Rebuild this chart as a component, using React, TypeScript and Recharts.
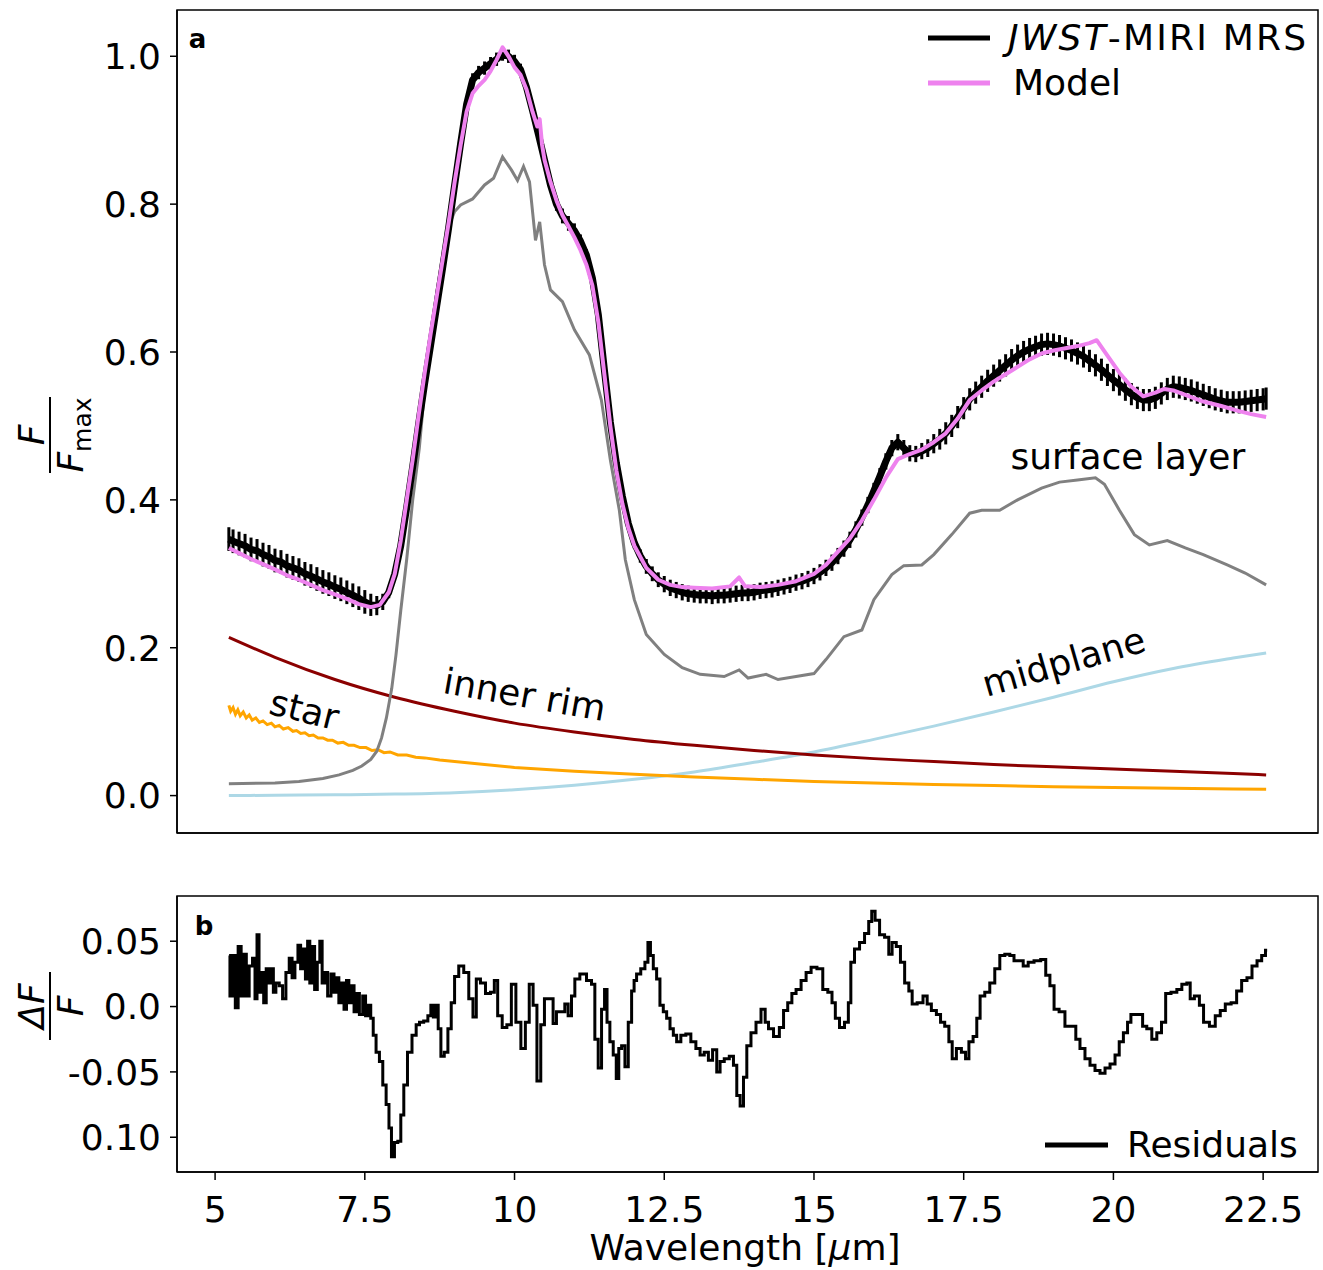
import React from 'react';
import {
  LineChart,
  Line,
  XAxis,
  YAxis,
  ReferenceArea,
  ReferenceDot,
  ErrorBar,
  Legend,
} from 'recharts';

const FONT = '"DejaVu Sans", Verdana, sans-serif';

// ---------- axis settings ----------
const waveTicks = [5, 7.5, 10, 12.5, 15, 17.5, 20, 22.5];
const waveTickLabels = ['5', '7.5', '10', '12.5', '15', '17.5', '20', '22.5'];
const waveDomain: [number, number] = [4.364, 23.416];
const fluxTicks = [0, 0.2, 0.4, 0.6, 0.8, 1.0];
const fluxTickLabels = ['0.0', '0.2', '0.4', '0.6', '0.8', '1.0'];
const fluxDomain: [number, number] = [-0.0506, 1.0626];
const resTicks = [0.05, 0.0, -0.05, -0.1];
const resTickLabels = ['0.05', '0.0', '-0.05', '0.10'];
const resDomain: [number, number] = [-0.1266, 0.0846];

// ---------- JWST-MIRI MRS spectrum [wavelength, flux, error] ----------
const observed: [number, number, number][] = [
  [5.23, 0.347, 0.016], [5.3, 0.344, 0.016], [5.4, 0.341, 0.016], [5.5, 0.338, 0.016],
  [5.6, 0.333, 0.016], [5.7, 0.331, 0.016], [5.8, 0.326, 0.016], [5.9, 0.323, 0.016],
  [6.0, 0.318, 0.016], [6.1, 0.316, 0.016], [6.2, 0.311, 0.016], [6.3, 0.308, 0.016],
  [6.4, 0.305, 0.016], [6.5, 0.3, 0.016], [6.6, 0.297, 0.016], [6.7, 0.293, 0.016],
  [6.8, 0.289, 0.016], [6.9, 0.286, 0.016], [7.0, 0.282, 0.016], [7.1, 0.279, 0.016],
  [7.2, 0.275, 0.016], [7.3, 0.271, 0.016], [7.4, 0.267, 0.016], [7.5, 0.262, 0.016],
  [7.6, 0.258, 0.015], [7.7, 0.257, 0.013], [7.8, 0.262, 0.011],
  [7.9, 0.275, 0.008], [8.0, 0.3, 0.007], [8.1, 0.338, 0.007], [8.2, 0.39, 0.007],
  [8.3, 0.445, 0.007], [8.4, 0.503, 0.007], [8.5, 0.558, 0.007], [8.6, 0.61, 0.007],
  [8.7, 0.662, 0.007], [8.8, 0.714, 0.007], [8.9, 0.768, 0.007], [9.0, 0.826, 0.007],
  [9.1, 0.882, 0.007], [9.2, 0.935, 0.007], [9.3, 0.968, 0.009], [9.4, 0.978, 0.009],
  [9.5, 0.984, 0.009], [9.6, 0.99, 0.009], [9.7, 0.996, 0.009], [9.8, 1.003, 0.009],
  [9.9, 1.0, 0.009], [10.0, 0.993, 0.009], [10.1, 0.982, 0.008], [10.2, 0.958, 0.007],
  [10.3, 0.927, 0.007], [10.4, 0.894, 0.007], [10.5, 0.86, 0.007], [10.6, 0.826, 0.007],
  [10.7, 0.8, 0.009], [10.8, 0.784, 0.01], [10.9, 0.774, 0.01], [11.0, 0.764, 0.01],
  [11.1, 0.75, 0.009], [11.2, 0.731, 0.008], [11.3, 0.7, 0.007], [11.4, 0.65, 0.007],
  [11.5, 0.576, 0.007], [11.6, 0.505, 0.007], [11.7, 0.45, 0.007], [11.8, 0.405, 0.007],
  [11.9, 0.368, 0.007], [12.0, 0.342, 0.008], [12.1, 0.324, 0.009], [12.2, 0.31, 0.01],
  [12.3, 0.3, 0.01], [12.4, 0.292, 0.01], [12.5, 0.286, 0.011], [12.6, 0.281, 0.011],
  [12.7, 0.278, 0.011], [12.8, 0.275, 0.011], [12.9, 0.273, 0.011], [13.0, 0.272, 0.011],
  [13.1, 0.271, 0.011], [13.2, 0.271, 0.011], [13.3, 0.27, 0.011], [13.4, 0.271, 0.011],
  [13.5, 0.271, 0.011], [13.6, 0.272, 0.011], [13.7, 0.273, 0.011], [13.8, 0.274, 0.011],
  [13.9, 0.274, 0.011], [14.0, 0.275, 0.011], [14.1, 0.277, 0.011], [14.2, 0.278, 0.011],
  [14.3, 0.279, 0.011], [14.4, 0.281, 0.011], [14.5, 0.283, 0.011], [14.6, 0.285, 0.011],
  [14.7, 0.288, 0.011], [14.8, 0.29, 0.011], [14.9, 0.293, 0.011], [15.0, 0.297, 0.011],
  [15.1, 0.302, 0.011], [15.2, 0.308, 0.011], [15.3, 0.315, 0.011], [15.4, 0.324, 0.011],
  [15.5, 0.334, 0.011], [15.6, 0.346, 0.011], [15.7, 0.36, 0.011], [15.8, 0.376, 0.011],
  [15.9, 0.393, 0.011],
  [16.0, 0.412, 0.011], [16.1, 0.432, 0.011], [16.2, 0.452, 0.011], [16.3, 0.47, 0.011],
  [16.4, 0.478, 0.011], [16.5, 0.47, 0.011], [16.6, 0.463, 0.011], [16.7, 0.462, 0.011],
  [16.8, 0.466, 0.011], [16.9, 0.47, 0.012], [17.0, 0.476, 0.013], [17.1, 0.482, 0.014],
  [17.2, 0.49, 0.015], [17.3, 0.5, 0.015], [17.4, 0.512, 0.015], [17.5, 0.524, 0.015],
  [17.6, 0.536, 0.015], [17.7, 0.545, 0.015], [17.8, 0.553, 0.015], [17.9, 0.561, 0.015],
  [18.0, 0.568, 0.015], [18.1, 0.575, 0.015], [18.2, 0.582, 0.015], [18.3, 0.589, 0.015],
  [18.4, 0.595, 0.015], [18.5, 0.6, 0.015], [18.6, 0.604, 0.015], [18.7, 0.607, 0.015],
  [18.8, 0.61, 0.015], [18.9, 0.611, 0.015], [19.0, 0.61, 0.015], [19.1, 0.608, 0.015],
  [19.2, 0.605, 0.015], [19.3, 0.602, 0.015], [19.4, 0.598, 0.015], [19.5, 0.594, 0.015],
  [19.6, 0.588, 0.015], [19.7, 0.582, 0.015], [19.8, 0.576, 0.015], [19.9, 0.569, 0.015],
  [20.0, 0.562, 0.015], [20.1, 0.556, 0.015], [20.2, 0.549, 0.015], [20.3, 0.543, 0.015],
  [20.4, 0.538, 0.015], [20.5, 0.535, 0.015], [20.6, 0.535, 0.015], [20.7, 0.538, 0.015],
  [20.8, 0.544, 0.015], [20.9, 0.55, 0.015], [21.0, 0.553, 0.015], [21.1, 0.552, 0.015],
  [21.2, 0.55, 0.015], [21.3, 0.548, 0.015], [21.4, 0.545, 0.015], [21.5, 0.542, 0.015],
  [21.6, 0.539, 0.015], [21.7, 0.536, 0.015], [21.8, 0.534, 0.015], [21.9, 0.532, 0.015],
  [22.0, 0.532, 0.015], [22.1, 0.532, 0.015], [22.2, 0.533, 0.015], [22.3, 0.534, 0.015],
  [22.4, 0.535, 0.015], [22.5, 0.536, 0.015], [22.55, 0.537, 0.015],
];

// ---------- model [wavelength, flux] ----------
const model: [number, number][] = [
  [5.23, 0.335], [5.4, 0.328], [5.6, 0.32], [5.8, 0.313], [6.0, 0.306], [6.2, 0.298],
  [6.4, 0.292], [6.6, 0.285], [6.8, 0.278], [7.0, 0.272], [7.2, 0.266], [7.4, 0.259],
  [7.6, 0.255], [7.75, 0.258], [7.9, 0.275], [8.0, 0.3], [8.1, 0.345], [8.2, 0.4],
  [8.3, 0.455], [8.4, 0.515], [8.5, 0.572], [8.6, 0.625], [8.7, 0.675], [8.8, 0.725],
  [8.9, 0.775], [9.0, 0.83], [9.1, 0.88], [9.2, 0.925], [9.3, 0.95], [9.4, 0.96],
  [9.5, 0.968], [9.6, 0.98], [9.7, 0.995], [9.8, 1.012], [9.9, 1.0], [10.0, 0.985],
  [10.1, 0.975], [10.2, 0.955], [10.3, 0.925], [10.38, 0.905], [10.42, 0.915], [10.46, 0.88],
  [10.5, 0.86], [10.6, 0.83], [10.7, 0.805], [10.8, 0.785], [10.9, 0.77], [11.0, 0.755],
  [11.1, 0.738], [11.2, 0.718], [11.3, 0.69], [11.4, 0.64], [11.5, 0.57], [11.6, 0.5],
  [11.7, 0.44], [11.8, 0.395], [11.9, 0.362], [12.0, 0.338], [12.2, 0.308], [12.4, 0.292],
  [12.6, 0.285], [12.8, 0.282], [13.0, 0.281], [13.3, 0.28], [13.6, 0.283], [13.75, 0.295],
  [13.85, 0.283], [14.1, 0.282], [14.4, 0.285], [14.7, 0.29], [15.0, 0.3], [15.2, 0.312],
  [15.4, 0.33], [15.6, 0.348], [15.8, 0.372], [16.0, 0.4], [16.2, 0.43], [16.4, 0.455],
  [16.6, 0.462], [16.8, 0.468], [17.0, 0.478], [17.2, 0.49], [17.4, 0.51], [17.6, 0.535],
  [17.8, 0.548], [18.0, 0.56], [18.2, 0.57], [18.4, 0.58], [18.6, 0.59], [18.8, 0.598],
  [19.0, 0.602], [19.2, 0.605], [19.4, 0.608], [19.6, 0.612], [19.72, 0.616], [19.9, 0.595],
  [20.1, 0.572], [20.3, 0.553], [20.5, 0.54], [20.7, 0.545], [20.85, 0.55], [21.0, 0.548],
  [21.2, 0.542], [21.5, 0.533], [21.8, 0.527], [22.1, 0.52], [22.3, 0.516], [22.55, 0.512],
];

// ---------- surface layer [wavelength, flux] ----------
const surfaceLayer: [number, number][] = [
  [5.23, 0.016], [6.0, 0.017], [6.4, 0.019], [6.8, 0.023], [7.07, 0.028], [7.3, 0.034],
  [7.45, 0.04], [7.6, 0.049], [7.7, 0.06], [7.78, 0.078], [7.86, 0.105], [7.95, 0.145],
  [8.02, 0.19], [8.1, 0.25], [8.2, 0.32], [8.3, 0.4], [8.41, 0.47], [8.5, 0.55], [8.6, 0.62],
  [8.7, 0.68], [8.8, 0.73], [8.9, 0.77], [9.0, 0.79], [9.1, 0.799], [9.3, 0.807], [9.5, 0.826],
  [9.65, 0.835], [9.8, 0.864], [9.95, 0.846], [10.05, 0.832], [10.15, 0.851], [10.25, 0.83],
  [10.35, 0.751], [10.42, 0.776], [10.5, 0.718], [10.6, 0.684], [10.8, 0.668], [11.0, 0.63],
  [11.25, 0.596], [11.45, 0.535], [11.6, 0.454], [11.75, 0.386], [11.85, 0.319], [12.0, 0.265],
  [12.2, 0.218], [12.5, 0.191], [12.8, 0.173], [13.1, 0.164], [13.5, 0.161], [13.75, 0.17],
  [13.9, 0.159], [14.2, 0.164], [14.4, 0.157], [14.7, 0.161], [15.0, 0.165], [15.2, 0.184],
  [15.5, 0.215], [15.8, 0.224], [16.0, 0.265], [16.3, 0.299], [16.5, 0.311], [16.8, 0.312],
  [17.0, 0.326], [17.3, 0.353], [17.6, 0.382], [17.8, 0.386], [18.1, 0.386], [18.4, 0.4],
  [18.8, 0.416], [19.1, 0.424], [19.4, 0.427], [19.7, 0.43], [19.85, 0.421], [20.1, 0.386],
  [20.35, 0.353], [20.6, 0.339], [20.9, 0.345], [21.2, 0.335], [21.5, 0.326], [21.9, 0.312],
  [22.2, 0.301], [22.55, 0.285],
];

// ---------- inner rim [wavelength, flux] ----------
const innerRim: [number, number][] = [
  [5.23, 0.214], [6.0, 0.187], [7.0, 0.157], [8.0, 0.133], [9.0, 0.114], [10.0, 0.098],
  [11.0, 0.086], [12.0, 0.076], [13.0, 0.068], [14.0, 0.061], [15.0, 0.055], [16.0, 0.05],
  [17.0, 0.046], [18.0, 0.042], [19.0, 0.039], [20.0, 0.036], [21.0, 0.033], [22.0, 0.03],
  [22.55, 0.028],
];

// ---------- star [wavelength, flux] ----------
const star: [number, number][] = [
  [5.23, 0.122], [5.26, 0.114], [5.3, 0.119], [5.34, 0.11], [5.38, 0.116], [5.42, 0.108],
  [5.47, 0.113], [5.52, 0.105], [5.57, 0.109], [5.62, 0.102], [5.68, 0.105], [5.74, 0.099],
  [5.8, 0.101], [5.87, 0.096], [5.94, 0.098], [6.0, 0.093], [6.07, 0.095], [6.14, 0.09],
  [6.22, 0.092], [6.3, 0.087], [6.36, 0.088], [6.43, 0.084], [6.5, 0.085], [6.57, 0.081],
  [6.64, 0.082], [6.72, 0.078], [6.8, 0.078], [6.88, 0.075], [6.96, 0.075], [7.05, 0.071],
  [7.14, 0.072], [7.23, 0.068], [7.32, 0.068], [7.42, 0.065], [7.52, 0.065], [7.62, 0.061],
  [7.72, 0.062], [7.82, 0.058], [7.92, 0.059], [8.05, 0.055], [8.2, 0.055], [8.35, 0.052],
  [8.5, 0.051], [8.75, 0.048], [9.0, 0.046], [9.25, 0.044], [9.5, 0.042], [10.0, 0.038],
  [11.0, 0.033], [12.0, 0.029], [13.0, 0.025], [14.0, 0.022], [15.0, 0.019], [16.0, 0.017],
  [17.0, 0.015], [18.0, 0.0135], [19.0, 0.012], [20.0, 0.011], [21.0, 0.01], [22.0, 0.009],
  [22.55, 0.0085],
];

// ---------- midplane [wavelength, flux] ----------
const midplane: [number, number][] = [
  [5.23, 0.0], [6.0, 0.0005], [7.0, 0.001], [8.0, 0.002], [9.0, 0.004], [10.0, 0.008],
  [11.0, 0.014], [12.0, 0.022], [13.0, 0.032], [14.0, 0.045], [15.0, 0.059], [16.0, 0.076],
  [17.0, 0.094], [18.0, 0.113], [19.0, 0.133], [20.0, 0.154], [21.0, 0.172], [22.0, 0.186],
  [22.55, 0.193],
];

// ---------- residuals [wavelength, dF/F] ----------
const residuals: [number, number][] = [
  [5.234, 0.039], [5.262, 0.008], [5.318, 0.039], [5.357, -0.001], [5.413, 0.046], [5.457, 0.008],
  [5.502, 0.04], [5.541, 0.008], [5.597, 0.031], [5.653, 0.037], [5.68, 0.006], [5.72, 0.055],
  [5.747, 0.011], [5.792, 0.026], [5.831, 0.003], [5.876, 0.029], [5.931, 0.018], [5.959, 0.029],
  [5.987, 0.011], [6.043, 0.018], [6.099, 0.016], [6.155, 0.006], [6.21, 0.026], [6.266, 0.037],
  [6.305, 0.022], [6.361, 0.034], [6.406, 0.047], [6.45, 0.029], [6.489, 0.044], [6.528, 0.021],
  [6.562, 0.05], [6.601, 0.018], [6.64, 0.046], [6.684, 0.013], [6.729, 0.034], [6.768, 0.05],
  [6.807, 0.018], [6.852, 0.026], [6.907, 0.008], [6.963, 0.025], [7.008, 0.011], [7.047, 0.022],
  [7.086, 0.003], [7.131, 0.018], [7.175, -0.002], [7.214, 0.02], [7.253, 0.003], [7.298, 0.016],
  [7.343, -0.004], [7.382, 0.01], [7.437, -0.006], [7.493, 0.008], [7.532, -0.007], [7.577, 0.001],
  [7.621, -0.009], [7.66, -0.022], [7.716, -0.035], [7.772, -0.042], [7.828, -0.06], [7.884, -0.075],
  [7.923, -0.093], [7.967, -0.115], [8.023, -0.104], [8.079, -0.103], [8.123, -0.083], [8.179, -0.06],
  [8.246, -0.035], [8.33, -0.022], [8.385, -0.014], [8.441, -0.012], [8.525, -0.011], [8.581, -0.007],
  [8.625, 0.001], [8.664, -0.008], [8.703, 0.001], [8.748, -0.017], [8.793, -0.038], [8.86, -0.035],
  [8.915, -0.017], [8.971, 0.003], [9.027, 0.023], [9.11, 0.031], [9.194, 0.026], [9.278, 0.006],
  [9.334, -0.008], [9.389, 0.021], [9.473, 0.018], [9.557, 0.01], [9.64, 0.011], [9.685, 0.02],
  [9.752, -0.007], [9.836, -0.016], [9.908, -0.014], [9.986, 0.017], [10.059, -0.012], [10.153, -0.032],
  [10.209, -0.012], [10.282, 0.017], [10.338, 0.001], [10.41, -0.057], [10.466, -0.014], [10.533, 0.006],
  [10.616, 0.006], [10.672, -0.013], [10.728, -0.004], [10.812, -0.004], [10.867, 0.002], [10.923, -0.007],
  [10.979, 0.008], [11.035, 0.021], [11.146, 0.025], [11.258, 0.02], [11.313, 0.017], [11.369, -0.025],
  [11.425, -0.047], [11.481, -0.002], [11.525, 0.013], [11.564, -0.012], [11.62, -0.027], [11.676, -0.037],
  [11.721, -0.055], [11.76, -0.032], [11.816, -0.03], [11.871, -0.046], [11.927, -0.012], [11.983, 0.012],
  [12.01, 0.02], [12.066, 0.025], [12.149, 0.029], [12.205, 0.034], [12.25, 0.049], [12.289, 0.039],
  [12.345, 0.029], [12.4, 0.021], [12.456, 0.001], [12.512, -0.004], [12.568, -0.009], [12.624, -0.017],
  [12.679, -0.022], [12.735, -0.027], [12.819, -0.022], [12.902, -0.021], [12.986, -0.027], [13.07, -0.032],
  [13.126, -0.037], [13.209, -0.035], [13.265, -0.041], [13.349, -0.033], [13.404, -0.05], [13.46, -0.042],
  [13.544, -0.04], [13.628, -0.038], [13.683, -0.045], [13.739, -0.068], [13.795, -0.076], [13.851, -0.054],
  [13.906, -0.03], [13.99, -0.02], [14.074, -0.012], [14.157, -0.002], [14.213, -0.012], [14.269, -0.017],
  [14.38, -0.023], [14.464, -0.016], [14.52, -0.003], [14.603, 0.003], [14.659, 0.01], [14.743, 0.013],
  [14.827, 0.02], [14.91, 0.026], [14.994, 0.03], [15.105, 0.029], [15.189, 0.013], [15.273, 0.011],
  [15.329, 0.003], [15.384, -0.009], [15.468, -0.016], [15.552, -0.012], [15.596, 0.003], [15.635, 0.034],
  [15.719, 0.044], [15.803, 0.049], [15.886, 0.056], [15.942, 0.065], [15.987, 0.073], [16.054, 0.066],
  [16.137, 0.055], [16.221, 0.053], [16.277, 0.04], [16.332, 0.049], [16.416, 0.046], [16.472, 0.034],
  [16.556, 0.018], [16.612, 0.012], [16.667, 0.002], [16.779, 0.003], [16.862, 0.008], [16.918, 0.002],
  [17.002, -0.003], [17.086, -0.006], [17.141, -0.012], [17.225, -0.015], [17.28, -0.027], [17.336, -0.04],
  [17.42, -0.032], [17.503, -0.035], [17.559, -0.04], [17.615, -0.027], [17.699, -0.023], [17.738, -0.009],
  [17.81, 0.008], [17.894, 0.011], [17.977, 0.018], [18.061, 0.029], [18.145, 0.039], [18.228, 0.04],
  [18.312, 0.039], [18.368, 0.035], [18.452, 0.035], [18.535, 0.031], [18.619, 0.034], [18.73, 0.035],
  [18.842, 0.036], [18.898, 0.024], [18.981, 0.016], [19.037, -0.002], [19.149, -0.004], [19.232, -0.015],
  [19.344, -0.015], [19.4, -0.025], [19.483, -0.032], [19.567, -0.04], [19.651, -0.045], [19.734, -0.049],
  [19.818, -0.051], [19.902, -0.047], [19.985, -0.044], [20.069, -0.037], [20.125, -0.027], [20.208, -0.02],
  [20.264, -0.012], [20.32, -0.006], [20.46, -0.006], [20.515, -0.015], [20.599, -0.017], [20.683, -0.025],
  [20.766, -0.02], [20.839, -0.012], [20.906, 0.01], [21.017, 0.011], [21.101, 0.013], [21.184, 0.017],
  [21.268, 0.018], [21.296, 0.006], [21.408, 0.008], [21.463, 0.001], [21.547, -0.012], [21.659, -0.015],
  [21.742, -0.007], [21.826, -0.003], [21.91, 0.002], [22.021, 0.003], [22.094, 0.012], [22.188, 0.02],
  [22.272, 0.022], [22.356, 0.031], [22.44, 0.035], [22.511, 0.039], [22.567, 0.043],
];

// ---------- text annotations ----------
const annoText = ['star', 'inner rim', 'midplane', 'surface layer'];
const annoWave = [6.49, 10.17, 19.17, 20.24];
const annoFlux = [0.116, 0.1365, 0.181, 0.459];
const annoAngle = [14, 10, -16, 0];

const COLORS = {
  obs: '#000000',
  model: '#ee82ee',
  surface: '#808080',
  rim: '#8b0000',
  star: '#ffa500',
  mid: '#add8e6',
};

const toXY = (arr: [number, number][]) => arr.map(([x, y]) => ({ x, y }));
const obsData = observed.map(([x, y, e]) => ({ x, y, e }));
const resData = toXY(residuals);

const tickStyle = { fill: '#000', fontSize: 36, fontFamily: FONT };

const labelFor = (ticks: number[], labels: string[]) => (v: number) => {
  let best = 0;
  ticks.forEach((t, i) => {
    if (Math.abs(t - v) < Math.abs(ticks[best] - v)) best = i;
  });
  return labels[best];
};

const AnnoText = (props: any) => {
  const { viewBox, text, rot = 0, anchor = 'middle', size = 36, weight = 'normal' } = props;
  const cx = (viewBox?.x ?? 0) + (viewBox?.width ?? 0) / 2;
  const cy = (viewBox?.y ?? 0) + (viewBox?.height ?? 0) / 2;
  return (
    <text
      x={cx}
      y={cy}
      transform={`rotate(${rot} ${cx} ${cy})`}
      textAnchor={anchor}
      dominantBaseline="central"
      fontSize={size}
      fontWeight={weight}
      fontFamily={FONT}
      fill="#000"
    >
      {text}
    </text>
  );
};

const TopLegend = () => (
  <svg width={400} height={100} style={{ display: 'block', overflow: 'visible' }}>
    <line x1={8} x2={70} y1={28} y2={28} stroke={COLORS.obs} strokeWidth={5} />
    <text x={88} y={40} fontSize={36} fontFamily={FONT} fill="#000" textLength={298} lengthAdjust="spacing">
      <tspan fontStyle="italic">JWST</tspan>
      <tspan>-MIRI MRS</tspan>
    </text>
    <line x1={8} x2={70} y1={73} y2={73} stroke={COLORS.model} strokeWidth={5} />
    <text x={93} y={85} fontSize={36} fontFamily={FONT} fill="#000">
      Model
    </text>
  </svg>
);

const BottomLegend = () => (
  <svg width={280} height={50} style={{ display: 'block', overflow: 'visible' }}>
    <line x1={5} x2={68} y1={25} y2={25} stroke="#000" strokeWidth={5} />
    <text x={87} y={37} fontSize={36} fontFamily={FONT} fill="#000">
      Residuals
    </text>
  </svg>
);

const axisStroke = { stroke: '#000', strokeWidth: 1.5 };

export default function App() {
  return (
    <div style={{ position: 'absolute', left: 0, top: 0, width: 1323, height: 1270, background: '#fff' }}>
      {/* Panel a */}
      <div style={{ position: 'absolute', left: 0, top: 0 }}>
        <LineChart width={1323} height={850} margin={{ top: 10, right: 5, bottom: 16, left: 176 }}>
          <XAxis
            type="number"
            dataKey="x"
            domain={waveDomain}
            allowDataOverflow
            ticks={waveTicks}
            tick={false}
            tickSize={8}
            height={1}
            axisLine={axisStroke}
            tickLine={axisStroke}
          />
          <YAxis
            type="number"
            dataKey="y"
            domain={fluxDomain}
            allowDataOverflow
            ticks={fluxTicks}
            tickFormatter={labelFor(fluxTicks, fluxTickLabels)}
            tick={tickStyle}
            tickSize={7}
            tickMargin={9}
            width={1}
            interval={0}
            axisLine={axisStroke}
            tickLine={axisStroke}
          />
          <ReferenceArea
            x1={waveDomain[0]}
            x2={waveDomain[1]}
            y1={fluxDomain[0]}
            y2={fluxDomain[1]}
            fill="none"
            fillOpacity={0}
            stroke="#000"
            strokeWidth={1.5}
            ifOverflow="visible"
          />
          <Line data={toXY(midplane)} dataKey="y" stroke={COLORS.mid} strokeWidth={3} dot={false} activeDot={false} isAnimationActive={false} type="monotone" />
          <Line data={toXY(star)} dataKey="y" stroke={COLORS.star} strokeWidth={3} dot={false} activeDot={false} isAnimationActive={false} type="linear" />
          <Line data={toXY(innerRim)} dataKey="y" stroke={COLORS.rim} strokeWidth={3} dot={false} activeDot={false} isAnimationActive={false} type="monotone" />
          <Line data={toXY(surfaceLayer)} dataKey="y" stroke={COLORS.surface} strokeWidth={3} dot={false} activeDot={false} isAnimationActive={false} type="linear" />
          <Line data={obsData} dataKey="y" stroke={COLORS.obs} strokeWidth={7} dot={false} activeDot={false} isAnimationActive={false} type="linear" strokeLinejoin="round">
            <ErrorBar dataKey="e" direction="y" width={0} stroke="#000" strokeWidth={3} />
          </Line>
          <Line data={toXY(model)} dataKey="y" stroke={COLORS.model} strokeWidth={4} dot={false} activeDot={false} isAnimationActive={false} type="linear" strokeLinejoin="round" />
          {annoText.map((t, i) => (
            <ReferenceDot
              key={t}
              x={annoWave[i]}
              y={annoFlux[i]}
              r={0}
              fill="none"
              stroke="none"
              label={<AnnoText text={t} rot={annoAngle[i]} />}
            />
          ))}
          <ReferenceDot x={4.56} y={1.024} r={0} fill="none" stroke="none" label={<AnnoText text="a" anchor="start" size={26} weight="bold" />} />
          <Legend
            layout="vertical"
            align="center"
            verticalAlign="middle"
            wrapperStyle={{ left: 920, top: 10, width: 400, height: 100 }}
            content={() => <TopLegend />}
          />
        </LineChart>
      </div>

      {/* Panel b */}
      <div style={{ position: 'absolute', left: 0, top: 850 }}>
        <LineChart width={1323} height={420} margin={{ top: 46, right: 5, bottom: 97, left: 176 }}>
          <XAxis
            type="number"
            dataKey="x"
            domain={waveDomain}
            allowDataOverflow
            ticks={waveTicks}
            tickFormatter={labelFor(waveTicks, waveTickLabels)}
            tick={tickStyle}
            tickSize={8}
            tickMargin={16}
            height={1}
            interval={0}
            axisLine={axisStroke}
            tickLine={axisStroke}
          />
          <YAxis
            type="number"
            dataKey="y"
            domain={resDomain}
            allowDataOverflow
            ticks={resTicks}
            tickFormatter={labelFor(resTicks, resTickLabels)}
            tick={tickStyle}
            tickSize={7}
            tickMargin={9}
            width={1}
            interval={0}
            axisLine={axisStroke}
            tickLine={axisStroke}
          />
          <ReferenceArea
            x1={waveDomain[0]}
            x2={waveDomain[1]}
            y1={resDomain[0]}
            y2={resDomain[1]}
            fill="none"
            fillOpacity={0}
            stroke="#000"
            strokeWidth={1.5}
            ifOverflow="visible"
          />
          <Line data={resData} dataKey="y" stroke="#000" strokeWidth={3} dot={false} activeDot={false} isAnimationActive={false} type="step" />
          <ReferenceDot x={4.66} y={0.0616} r={0} fill="none" stroke="none" label={<AnnoText text="b" anchor="start" size={26} weight="bold" />} />
          <Legend
            layout="vertical"
            align="center"
            verticalAlign="middle"
            wrapperStyle={{ left: 1040, top: 270, width: 280, height: 50 }}
            content={() => <BottomLegend />}
          />
        </LineChart>
      </div>

      {/* Axis titles */}
      <svg
        width={1323}
        height={1270}
        style={{ position: 'absolute', left: 0, top: 0, pointerEvents: 'none' }}
      >
        <g transform="translate(50,435) rotate(-90)" fontFamily={FONT} fill="#000">
          <text x={0} y={-6} textAnchor="middle" fontSize={36} fontStyle="italic">F</text>
          <line x1={-38} x2={38} y1={0} y2={0} stroke="#000" strokeWidth={2} />
          <text x={0} y={33} textAnchor="middle" fontSize={36}>
            <tspan fontStyle="italic">F</tspan>
            <tspan fontSize={25} dy={8}>max</tspan>
          </text>
        </g>
        <g transform="translate(50,1006) rotate(-90)" fontFamily={FONT} fill="#000">
          <text x={0} y={-6} textAnchor="middle" fontSize={36} fontStyle="italic">ΔF</text>
          <line x1={-34} x2={34} y1={0} y2={0} stroke="#000" strokeWidth={2} />
          <text x={0} y={33} textAnchor="middle" fontSize={36} fontStyle="italic">F</text>
        </g>
        <text x={745} y={1260} textAnchor="middle" fontSize={36} fontFamily={FONT} fill="#000">
          Wavelength [<tspan fontStyle="italic">μ</tspan>m]
        </text>
      </svg>
    </div>
  );
}
